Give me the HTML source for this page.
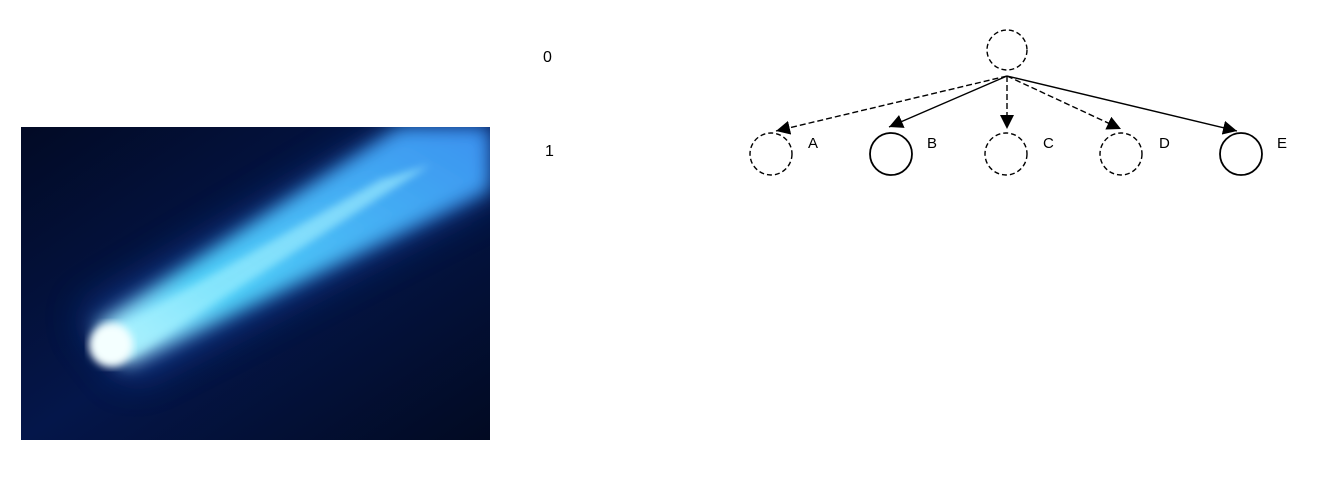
<!DOCTYPE html>
<html><head><meta charset="utf-8"><style>
body{margin:0;background:#fff;width:1320px;height:472px;overflow:hidden;font-family:"Liberation Sans",sans-serif}
</style></head><body>
<svg width="1320" height="472">
<defs>
<linearGradient id="bg" x1="0" y1="0" x2="1" y2="1">
<stop offset="0" stop-color="#020a25"/><stop offset="0.5" stop-color="#04164a"/><stop offset="1" stop-color="#020a22"/></linearGradient>
<linearGradient id="beam" x1="0" y1="1" x2="1" y2="0">
<stop offset="0" stop-color="#d0f8ff"/><stop offset="0.3" stop-color="#50d0f8"/><stop offset="1" stop-color="#3a90f0"/></linearGradient>
<filter id="blur" x="-20%" y="-20%" width="140%" height="140%"><feGaussianBlur stdDeviation="9"/></filter>
<filter id="blur2"><feGaussianBlur stdDeviation="4"/></filter>
<filter id="blur3" x="-50%" y="-50%" width="200%" height="200%"><feGaussianBlur stdDeviation="20"/></filter>
<clipPath id="clip"><rect x="21" y="127" width="469" height="313"/></clipPath>
<marker id="ah" viewBox="0 0 10 10" refX="10" refY="5" markerWidth="14" markerHeight="14" orient="auto" markerUnits="userSpaceOnUse"><path d="M0,0 L10,5 L0,10 z" fill="#000"/></marker>
</defs>
<g clip-path="url(#clip)">
<rect x="21" y="127" width="469" height="313" fill="url(#bg)"/>
<polygon points="80,315 400,127 490,127 490,195 130,380" fill="#1a5ad0" opacity="0.5" filter="url(#blur3)"/>
<polygon points="95,326 400,127 490,127 490,190 125,366" fill="url(#beam)" filter="url(#blur)"/>
<polygon points="105,335 380,180 430,165 130,358" fill="#a8f4ff" opacity="0.6" filter="url(#blur2)"/>
<circle cx="111" cy="345" r="22" fill="#f4ffff" filter="url(#blur2)"/>
</g>
<g font-size="16" fill="#000">
<text x="543" y="62">0</text>
<text x="545" y="156">1</text>
</g>
<g fill="none" stroke="#000" stroke-width="1.4">
<circle cx="1007" cy="50" r="20" stroke-dasharray="5,3"/>
<line x1="1007" y1="76" x2="776" y2="131" stroke-dasharray="6,3" marker-end="url(#ah)"/>
<line x1="1007" y1="76" x2="889" y2="127" marker-end="url(#ah)"/>
<line x1="1007" y1="76" x2="1007" y2="129" stroke-dasharray="6,3" marker-end="url(#ah)"/>
<line x1="1007" y1="76" x2="1121" y2="129" stroke-dasharray="6,3" marker-end="url(#ah)"/>
<line x1="1007" y1="76" x2="1237" y2="131" marker-end="url(#ah)"/>
<circle cx="771" cy="154" r="21" stroke-dasharray="5,3"/>
<circle cx="891" cy="154" r="21" stroke-width="1.8"/>
<circle cx="1006" cy="154" r="21" stroke-dasharray="5,3"/>
<circle cx="1121" cy="154" r="21" stroke-dasharray="5,3"/>
<circle cx="1241" cy="154" r="21" stroke-width="1.8"/>
</g>
<g font-size="15" fill="#000">
<text x="808" y="148">A</text>
<text x="927" y="148">B</text>
<text x="1043" y="148">C</text>
<text x="1159" y="148">D</text>
<text x="1277" y="148">E</text>
</g>
</svg>
</body></html>
